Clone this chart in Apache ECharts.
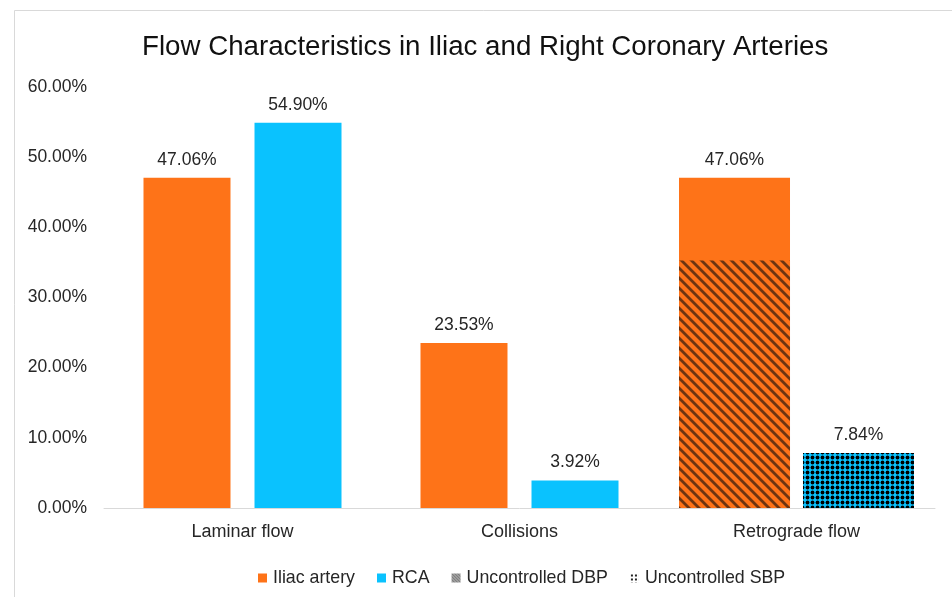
<!DOCTYPE html>
<html>
<head>
<meta charset="utf-8">
<script src="https://cdn.jsdelivr.net/npm/echarts@6/dist/echarts.min.js"></script>
<style>
  html, body { margin: 0; padding: 0; background: #fff; }
  #chart { width: 952px; height: 597px; }
</style>
</head>
<body>
<div id="chart"></div>
<script>
// categories and values (percent)
const categories = ['Laminar flow', 'Collisions', 'Retrograde flow'];
const iliac = [47.06, 23.53, 47.06];
const rca = [54.90, 3.92, 7.84];
const dbpRetro = 35.29;   // uncontrolled DBP share, iliac retrograde
const sbpRetro = 7.84;    // uncontrolled SBP share, RCA retrograde
const yTicks = [0, 10, 20, 30, 40, 50, 60];

const ORANGE = '#fe7318';
const BLUE = '#0ac2fe';
const FONT = 'Liberation Sans';

function makePattern(size, draw) {
  const c = document.createElement('canvas');
  c.width = size; c.height = size;
  draw(c.getContext('2d'), size);
  return { image: c, repeat: 'repeat' };
}

// orange with dark diagonal stripes (pixel based, seamless)
const stripeFill = makePattern(10, (ctx, s) => {
  ctx.fillStyle = ORANGE;
  ctx.fillRect(0, 0, s, s);
  for (let y = 0; y < s; y++) {
    for (let x = 0; x < s; x++) {
      const d = ((x - y) % s + s) % s;
      if (d < 3) { ctx.fillStyle = '#6e3510'; ctx.fillRect(x, y, 1, 1); }
      else if (d === 3 || d === s - 1) { ctx.fillStyle = '#b5551a'; ctx.fillRect(x, y, 1, 1); }
    }
  }
});

// blue with black dots
const dotFill = makePattern(5, (ctx, s) => {
  ctx.fillStyle = BLUE;
  ctx.fillRect(0, 0, s, s);
  ctx.fillStyle = '#000';
  ctx.beginPath();
  ctx.arc(2.5, 2.5, 1.9, 0, Math.PI * 2);
  ctx.fill();
});

// legend swatches
const stripeIcon = makePattern(3, (ctx, s) => {
  ctx.fillStyle = '#bbb';
  ctx.fillRect(0, 0, s, s);
  ctx.fillStyle = '#444';
  ctx.fillRect(0, 0, 1, 1); ctx.fillRect(1, 1, 1, 1); ctx.fillRect(2, 2, 1, 1);
});
const dotIcon = makePattern(4, (ctx, s) => {
  ctx.fillStyle = '#fff';
  ctx.fillRect(0, 0, s, s);
  ctx.fillStyle = '#222';
  ctx.fillRect(1, 1, 2, 2);
});

const pct = v => v.toFixed(2) + '%';
const only = (arr, idx) => arr.map((v, i) => idx.includes(i) ? v : '-');

const valueLabel = {
  show: true,
  position: 'top',
  distance: 9,
  color: '#262626',
  fontSize: 17.5,
  fontFamily: FONT,
  formatter: p => pct(p.value)
};

const catAxis = idx => ({
  type: 'category',
  data: categories,
  gridIndex: 0,
  show: idx === 0,
  axisLine: { lineStyle: { color: '#d9d9d9', width: 1 } },
  axisTick: { show: false },
  axisLabel: { color: '#262626', fontSize: 18, fontFamily: FONT, margin: 15 }
});

const chart = echarts.init(document.getElementById('chart'));
chart.setOption({
  animation: false,
  backgroundColor: '#fff',
  graphic: [{
    type: 'rect',
    shape: { x: 14.5, y: 10.5, width: 960, height: 600 },
    style: { fill: 'none', stroke: '#d9d9d9', lineWidth: 1 },
    silent: true
  }],
  title: {
    text: 'Flow Characteristics in Iliac and Right Coronary Arteries',
    left: 137,
    top: 28,
    textStyle: { fontSize: 27.7, fontWeight: 'normal', color: '#111', fontFamily: FONT }
  },
  grid: { left: 104, right: 17, top: 87, bottom: 89, containLabel: false },
  xAxis: [catAxis(0), catAxis(1), catAxis(2)],
  yAxis: {
    type: 'value',
    min: 0,
    max: yTicks[yTicks.length - 1],
    interval: 10,
    axisLine: { show: false },
    axisTick: { show: false },
    splitLine: { show: false },
    axisLabel: { color: '#262626', fontSize: 17.5, fontFamily: FONT, margin: 17, formatter: v => pct(v) }
  },
  legend: {
    left: 253,
    top: 564,
    itemWidth: 9,
    itemHeight: 9,
    itemGap: 22,
    icon: 'rect',
    textStyle: { color: '#262626', fontSize: 17.8, fontFamily: FONT, padding: [0, 0, 0, 1] },
    data: [
      { name: 'Iliac artery', itemStyle: { color: ORANGE } },
      { name: 'RCA', itemStyle: { color: BLUE } },
      { name: 'Uncontrolled DBP', itemStyle: { color: stripeIcon } },
      { name: 'Uncontrolled SBP', itemStyle: { color: dotIcon } }
    ]
  },
  series: [
    {
      name: 'Iliac artery', type: 'bar', xAxisIndex: 0,
      barWidth: 87, barGap: '27.6%',
      itemStyle: { color: ORANGE },
      label: valueLabel,
      data: only(iliac, [0, 1])
    },
    {
      name: 'RCA', type: 'bar', xAxisIndex: 0,
      barWidth: 87, barGap: '27.6%',
      itemStyle: { color: BLUE },
      label: valueLabel,
      data: only(rca, [0, 1])
    },
    {
      name: 'Iliac artery', type: 'bar', xAxisIndex: 1,
      barWidth: 111, barGap: '11.7%',
      itemStyle: { color: ORANGE },
      label: valueLabel,
      data: only(iliac, [2])
    },
    {
      name: 'RCA', type: 'bar', xAxisIndex: 1,
      barWidth: 111, barGap: '11.7%',
      itemStyle: { color: BLUE },
      label: valueLabel,
      data: only(rca, [2])
    },
    {
      name: 'Uncontrolled DBP', type: 'bar', xAxisIndex: 2,
      barWidth: 111, barGap: '11.7%',
      itemStyle: { color: stripeFill },
      data: ['-', '-', dbpRetro]
    },
    {
      name: 'Uncontrolled SBP', type: 'bar', xAxisIndex: 2,
      barWidth: 111, barGap: '11.7%',
      itemStyle: { color: dotFill },
      data: ['-', '-', sbpRetro]
    }
  ]
});
</script>
</body>
</html>
